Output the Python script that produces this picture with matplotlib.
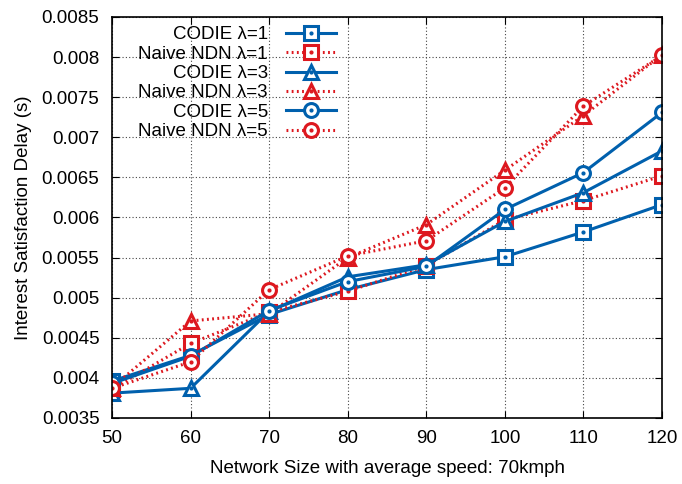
import matplotlib
matplotlib.use('Agg')
import matplotlib.pyplot as plt
from matplotlib.legend_handler import HandlerTuple

plt.rcParams['font.family'] = ['Liberation Sans', 'DejaVu Sans']

sizes = [50, 60, 70, 80, 90, 100, 110, 120]

codie_l1 = [0.00396, 0.00428, 0.00479, 0.00510, 0.00535, 0.00551, 0.00582, 0.00616]
naive_l1 = [0.00386, 0.00443, 0.00482, 0.00508, 0.00540, 0.00597, 0.00621, 0.00652]
codie_l3 = [0.00381, 0.00387, 0.00483, 0.00526, 0.00541, 0.00595, 0.00631, 0.00683]
naive_l3 = [0.00388, 0.00471, 0.00480, 0.00550, 0.00591, 0.00659, 0.00727, 0.00803]
codie_l5 = [0.00393, 0.00427, 0.00484, 0.00520, 0.00539, 0.00610, 0.00656, 0.00731]
naive_l5 = [0.00387, 0.00420, 0.00510, 0.00552, 0.00571, 0.00637, 0.00739, 0.00802]

yticks = [0.0035, 0.004, 0.0045, 0.005, 0.0055, 0.006, 0.0065, 0.007, 0.0075, 0.008, 0.0085]

blue = '#0060ad'
red = '#dd181f'
dotted = (0, (0.6, 1.1))

series = [
    ('CODIE \u03bb=1', codie_l1, blue, '-', 's'),
    ('Naive NDN \u03bb=1', naive_l1, red, dotted, 's'),
    ('CODIE \u03bb=3', codie_l3, blue, '-', '^'),
    ('Naive NDN \u03bb=3', naive_l3, red, dotted, '^'),
    ('CODIE \u03bb=5', codie_l5, blue, '-', 'o'),
    ('Naive NDN \u03bb=5', naive_l5, red, dotted, 'o'),
]

fs = 13.5

fig = plt.figure(figsize=(6.82, 4.84), dpi=100)
ax = fig.add_axes([0.1642, 0.1364, 0.8065, 0.8285])

handles = []
labels = []
for label, vals, col, ls, mk in series:
    ln, = ax.plot(sizes, vals, color=col, linestyle=ls, linewidth=2.2,
                  marker=mk, markersize=10, markerfacecolor='white',
                  markeredgecolor=col, markeredgewidth=2.2)
    dot, = ax.plot(sizes, vals, linestyle='none', marker='o', markersize=2,
                   color=col)
    handles.append((ln, dot))
    labels.append(label)

ax.set_xlim(50, 120)
ax.set_ylim(0.0035, 0.0085)
ax.set_xticks(sizes)
ax.set_yticks(yticks)
ax.set_yticklabels(['%g' % v for v in yticks])
ax.tick_params(direction='in', top=True, right=True, labelsize=fs, length=5)
ax.tick_params(axis='y', pad=9)
ax.tick_params(axis='x', pad=9)
ax.grid(True, color='#444444', linestyle=(0, (1, 2)), linewidth=0.8)
for s in ax.spines.values():
    s.set_linewidth(1.2)

ax.set_xlabel('Network Size with average speed: 70kmph', fontsize=fs, labelpad=9)
ax.set_ylabel('Interest Satisfaction Delay (s)', fontsize=fs, labelpad=7)

# markerfirst=False right-aligns the labels against the samples
leg = ax.legend(handles, labels, handler_map={tuple: HandlerTuple(ndivide=1)},
                loc='upper right', bbox_to_anchor=(0.408, 0.977), markerfirst=False,
                frameon=False, fontsize=fs, handlelength=2.7, labelspacing=0.12,
                handletextpad=0.95, borderaxespad=0, borderpad=0)

fig.savefig('out.png', dpi=100)
